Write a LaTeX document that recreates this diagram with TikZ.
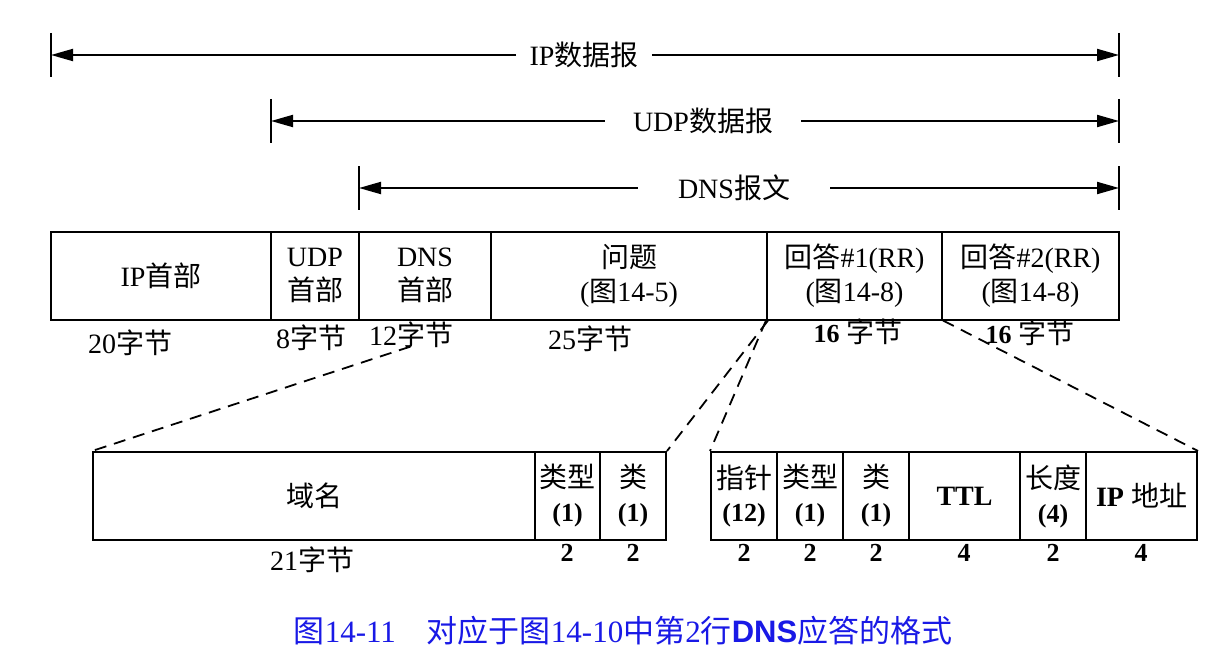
\documentclass[tikz,border=0pt]{standalone}
\usepackage{fontspec}
\setmainfont{Liberation Serif}
\setsansfont{Liberation Sans}
\newfontfamily\cjk{Noto Sans CJK SC}
\usetikzlibrary{arrows.meta,calc}
\newcommand\zh[1]{{\cjk #1}}
\newcommand\numf{\fontsize{13}{15}\selectfont\bfseries}
\definecolor{capblue}{RGB}{25,25,230}
\begin{document}
\begin{tikzpicture}[x=0.5pt,y=-0.5pt,
  cell/.style={draw, line width=1pt, inner sep=0pt, align=center,
    font=\fontsize{14}{17}\selectfont, minimum height=44pt},
  lab/.style={font=\fontsize{14}{17}\selectfont, inner sep=1pt},
  num/.style={font=\numf, inner sep=1pt},
  dim/.style={line width=1pt, -{Triangle[length=11pt,width=6pt]}},
  tick/.style={line width=1pt},
  link/.style={dash pattern=on 6pt off 4pt, line width=0.9pt}]
\useasboundingbox (0,0) rectangle (1224,658);
\fill[white] (0,0) rectangle (1224,658);

% dimension arrows
\coordinate (ipL) at (51,55);   \coordinate (ipR) at (1119,55);
\coordinate (udpL) at (271,121); \coordinate (udpR) at (1119,121);
\coordinate (dnsL) at (359,188); \coordinate (dnsR) at (1119,188);
\node[lab, inner xsep=6.5pt] (tIP) at (584,55) {IP\zh{数据报}};
\node[lab, inner xsep=14pt] (tUDP) at (703,121) {UDP\zh{数据报}};
\node[lab, inner xsep=20pt] (tDNS) at (734,188) {DNS\zh{报文}};
\draw[dim] (tIP) -- (ipL);   \draw[dim] (tIP) -- (ipR);
\draw[dim] (tUDP) -- (udpL); \draw[dim] (tUDP) -- (udpR);
\draw[dim] (tDNS) -- (dnsL); \draw[dim] (tDNS) -- (dnsR);
\foreach \c in {ipL,ipR,udpL,udpR,dnsL,dnsR}
  \draw[tick] ($(\c)+(0,-22)$) -- ($(\c)+(0,22)$);

% top row
\node[cell, minimum width=110pt]  (ip)   at (161,275.5)   {IP\zh{首部}};
\node[cell, minimum width=44pt]   (udp)  at (315,275.5)   {UDP\\\zh{首部}};
\node[cell, minimum width=66pt]   (dnsh) at (425,275.5)   {DNS\\\zh{首部}};
\node[cell, minimum width=138pt]  (q)    at (629,275.5)   {\zh{问题}\\(\zh{图}14-5)};
\node[cell, minimum width=87.5pt] (a1)   at (854.5,275.5) {\zh{回答}\#1(RR)\\(\zh{图}14-8)};
\node[cell, minimum width=88.5pt] (a2)   at (1030.5,275.5){\zh{回答}\#2(RR)\\(\zh{图}14-8)};

\node[lab] (l20) at (130,343) {20\zh{字节}};
\node[lab] (l8)  at (311,338) {8\zh{字节}};
\node[lab] (l12) at (411,335) {12\zh{字节}};
\node[lab] (l25) at (590,339) {25\zh{字节}};
\node[lab] (l16a) at (858,332) {{\fontsize{13}{14}\selectfont\bfseries 16}\ \zh{字节}};
\node[lab] (l16b) at (1030,333) {{\fontsize{13}{14}\selectfont\bfseries 16}\ \zh{字节}};

% bottom-left: question
\node[cell, minimum width=221pt]  (dom) at (314,496)   {\zh{域名}};
\node[cell, minimum width=32.5pt] (typ) at (567.5,496) {\zh{类型}\\{\numf (1)}};
\node[cell, minimum width=33pt]   (cls) at (633,496)   {\zh{类}\\{\numf (1)}};
\node[lab] (l21) at (312,560) {21\zh{字节}};
\node[num] (n1) at (567,553) {2};
\node[num] (n2) at (633,553) {2};

% bottom-right: answer RR
\node[cell, minimum width=33pt]   (ptr)  at (744,496)    {\zh{指针}\\{\numf (12)}};
\node[cell, minimum width=33pt]   (typ2) at (810,496)    {\zh{类型}\\{\numf (1)}};
\node[cell, minimum width=33pt]   (cls2) at (876,496)    {\zh{类}\\{\numf (1)}};
\node[cell, minimum width=55.5pt] (ttl)  at (964.5,496)  {{\fontsize{14}{16}\selectfont\bfseries TTL}};
\node[cell, minimum width=33pt]   (len)  at (1053,496)   {\zh{长度}\\{\numf (4)}};
\node[cell, minimum width=55.5pt] (ipa)  at (1141.5,496) {{\fontsize{14}{16}\selectfont\bfseries IP}\ \zh{地址}};
\node[num] (m1) at (744,553) {2};
\node[num] (m2) at (810,553) {2};
\node[num] (m3) at (876,553) {2};
\node[num] (m4) at (964,553) {4};
\node[num] (m5) at (1053,553) {2};
\node[num] (m6) at (1141,553) {4};

% dashed expansion lines
\draw[link] ($(q.south west)!0.2!(dom.north west)$) -- (dom.north west);
\draw[link] (q.south east) -- (cls.north east);
\draw[link] (a1.south west) -- (ptr.north west);
\draw[link] (a1.south east) -- (ipa.north east);

% caption
\node[font=\fontsize{15.5}{18}\selectfont, text=capblue, inner sep=0pt] (cap) at (623,631)
  {\zh{图}14-11\quad\zh{对应于图}14-10\zh{中第}2\zh{行}{\sffamily\bfseries DNS}\zh{应答的格式}};
\end{tikzpicture}
\end{document}
